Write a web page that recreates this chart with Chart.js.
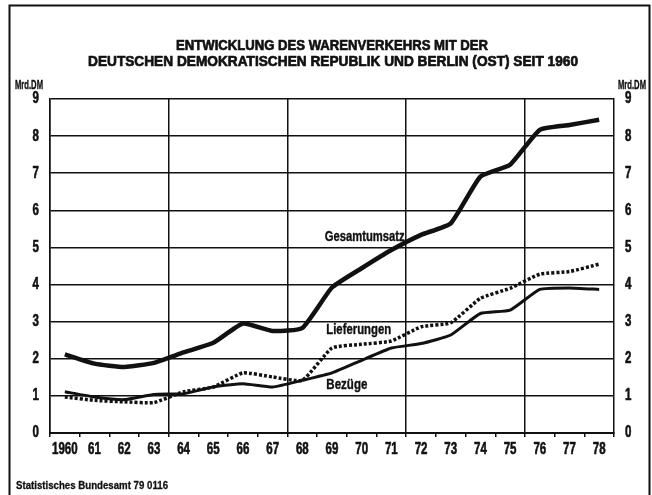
<!DOCTYPE html>
<html>
<head>
<meta charset="utf-8">
<script src="https://cdn.jsdelivr.net/npm/chart.js@4"></script>
<style>
  body { margin: 0; background: #fff; }
  #wrap { width: 652px; height: 495px; position: relative; }
</style>
</head>
<body>
<div id="wrap"><canvas id="chart"></canvas></div>
<script>
const years = ["1960", "61", "62", "63", "64", "65", "66", "67", "68", "69", "70", "71", "72", "73", "74", "75", "76", "77", "78"];
const gesamtumsatz = [2.12, 1.87, 1.78, 1.89, 2.17, 2.43, 2.95, 2.75, 2.83, 3.92, 4.44, 4.93, 5.34, 5.65, 6.91, 7.23, 8.17, 8.30, 8.44];
const lieferungen = [0.97, 0.88, 0.84, 0.82, 1.11, 1.24, 1.62, 1.51, 1.42, 2.29, 2.39, 2.48, 2.86, 2.97, 3.63, 3.90, 4.28, 4.35, 4.55];
const bezuege = [1.11, 0.97, 0.90, 1.04, 1.06, 1.24, 1.33, 1.24, 1.42, 1.62, 1.96, 2.29, 2.41, 2.64, 3.22, 3.31, 3.87, 3.91, 3.87];
const yTicks = [0, 1, 2, 3, 4, 5, 6, 7, 8, 9];

const titleLines = ["ENTWICKLUNG DES WARENVERKEHRS MIT DER", "DEUTSCHEN DEMOKRATISCHEN REPUBLIK UND BERLIN (OST) SEIT 1960"];
const unitLabel = "Mrd.DM";
const sourceNote = "Statistisches Bundesamt 79 0116";
// series name, x position (category index), y value, text width
const seriesLabels = [
  ["Gesamtumsatz", 10.1, 5.28, 80],
  ["Lieferungen", 9.9, 2.77, 65],
  ["Bezüge", 9.5, 1.29, 41]
];

const FONT = '"Liberation Sans", Arial, sans-serif';
const INK = "#111";
const SQUEEZE = 0.72;

// draw text with a horizontal scale factor, slightly emboldened
function drawText(ctx, text, ax, ay, sx, align, weight) {
  ctx.save();
  ctx.translate(ax, ay);
  ctx.scale(sx, 1);
  ctx.textAlign = align || "center";
  ctx.lineWidth = weight || 0.6;
  ctx.lineJoin = "round";
  ctx.fillText(text, 0, 0);
  ctx.strokeText(text, 0, 0);
  ctx.restore();
}

function fitText(ctx, text, ax, ay, width, align, weight) {
  drawText(ctx, text, ax, ay, width / ctx.measureText(text).width, align, weight);
}

const decorations = {
  id: "decorations",
  afterDraw(chart) {
    const ctx = chart.ctx;
    const x = chart.scales.x;
    const y = chart.scales.y;
    ctx.save();
    ctx.fillStyle = INK;
    ctx.strokeStyle = INK;
    ctx.textBaseline = "middle";

    // frame
    ctx.lineWidth = 2;
    ctx.beginPath();
    ctx.moveTo(9.5, 495);
    ctx.lineTo(9.5, 5.5);
    ctx.lineTo(649.5, 5.5);
    ctx.lineTo(649.5, 495);
    ctx.stroke();

    // title
    ctx.font = "bold 15px " + FONT;
    fitText(ctx, titleLines[0], 332, 46, 312, "center", 0.7);
    fitText(ctx, titleLines[1], 333, 62, 490, "center", 0.7);

    // unit labels
    ctx.font = "bold 13px " + FONT;
    fitText(ctx, unitLabel, 29, 85, 28, "center", 0.4);
    fitText(ctx, unitLabel, 632, 85, 28, "center", 0.4);

    // axis tick labels
    ctx.font = "bold 16px " + FONT;
    years.forEach((label, i) => {
      drawText(ctx, label, x.getPixelForTick(i), 450, SQUEEZE, "center");
    });
    yTicks.forEach((v) => {
      const py = y.getPixelForValue(v);
      drawText(ctx, String(v), x.left - 11, py, SQUEEZE, "right");
      drawText(ctx, String(v), x.right + 11, py, SQUEEZE, "left");
    });

    // series names
    ctx.font = "bold 15px " + FONT;
    seriesLabels.forEach(([name, xi, v, w]) => {
      fitText(ctx, name, x.getPixelForValue(xi), y.getPixelForValue(v), w, "center", 0.4);
    });

    // source
    ctx.font = "bold 11px " + FONT;
    fitText(ctx, sourceNote, 16, 486, 152, "left", 0.3);
    ctx.restore();
  }
};

const hidden = "rgba(0,0,0,0)";

new Chart(document.getElementById("chart"), {
  type: "line",
  data: {
    labels: years,
    datasets: [
      { data: gesamtumsatz, borderColor: INK, borderWidth: 4.5, tension: 0.15 },
      { data: lieferungen, borderColor: INK, borderWidth: 3.5, borderDash: [3, 2], tension: 0.15 },
      { data: bezuege, borderColor: INK, borderWidth: 3, tension: 0.15 }
    ]
  },
  options: {
    responsive: true,
    maintainAspectRatio: false,
    animation: false,
    events: [],
    layout: { padding: { top: 99, left: 0, right: 0, bottom: 0 } },
    elements: { point: { radius: 0 } },
    plugins: { legend: { display: false }, tooltip: { enabled: false }, title: { display: false } },
    scales: {
      x: {
        type: "category",
        offset: true,
        afterFit(scale) { scale.height = 62; },
        grid: {
          offset: true,
          lineWidth: 1.5,
          tickLength: 4,
          tickColor: INK,
          tickWidth: 1.5,
          color: (c) => (c.index % 4 === 0 && c.index < years.length) ? INK : hidden
        },
        border: { display: true, color: INK, width: 2 },
        ticks: { color: hidden, maxRotation: 0, autoSkip: false, font: { size: 12 } }
      },
      y: {
        position: "left",
        min: 0,
        max: 9,
        afterFit(scale) { scale.width = 50; },
        afterBuildTicks(scale) { scale.ticks = yTicks.map((v) => ({ value: v })); },
        grid: { color: INK, lineWidth: 1.5, drawTicks: false },
        border: { display: true, color: INK, width: 1.5 },
        ticks: { color: hidden, font: { size: 12 } }
      },
      y2: {
        position: "right",
        min: 0,
        max: 9,
        afterFit(scale) { scale.width = 38; },
        afterBuildTicks(scale) { scale.ticks = yTicks.map((v) => ({ value: v })); },
        grid: { display: false, drawTicks: false },
        border: { display: true, color: INK, width: 1.5 },
        ticks: { color: hidden, font: { size: 12 } }
      }
    }
  },
  plugins: [decorations]
});
</script>
</body>
</html>
